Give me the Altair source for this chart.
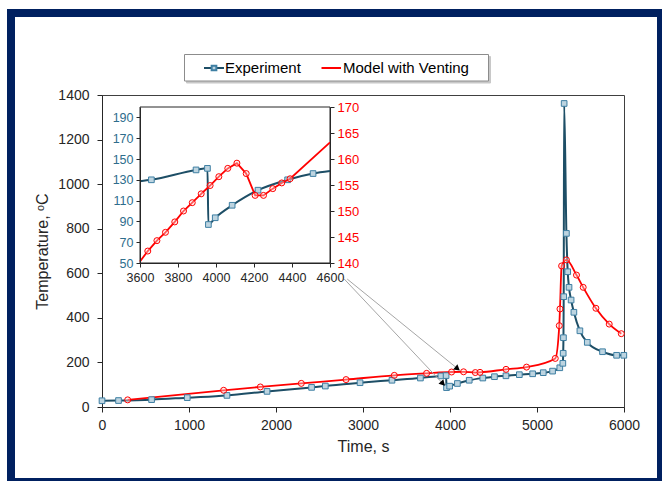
import altair as alt
import pandas as pd

# ---------------- data ----------------
series = ["Experiment", "Model with Venting"]

exp_t = [0, 190, 570, 980, 1436, 1897, 2409, 2567, 2966, 3333, 3660, 3895, 3955, 3960,
         3996, 4085, 4221, 4377, 4511, 4643, 4797, 4950, 5072, 5179, 5262, 5297, 5301,
         5304, 5307, 5312, 5338, 5353, 5368, 5392, 5424, 5493, 5578, 5753, 5915, 5998]
exp_v = [28, 29, 33, 42, 52, 70, 88, 94, 109, 120, 130, 139.5, 141, 87,
         93.5, 105.5, 120, 130, 136, 140, 145, 149, 154, 161, 176, 196, 241,
         311, 495, 1362, 779, 607, 537, 480, 425, 342, 290, 248, 232, 232]

mod_t = [295, 1398, 1820, 2291, 2805, 3360, 3731, 4018, 4156, 4291, 4345, 4644, 4880,
         5210, 5256, 5264, 5283, 5338, 5454, 5531, 5677, 5830, 5969]
mod_v = [32, 75, 90, 106, 123, 142, 151, 157, 158, 154.5, 155.5, 169, 179,
         218, 365, 440, 633, 660, 592, 537, 443, 372, 329]

# inset (zoom 3600-4600 s)
ins_mod_t = [3641, 3689, 3734, 3783, 3829, 3875, 3922, 3969, 4015, 4062, 4110, 4159,
             4206, 4250, 4299, 4346, 4390]
ins_mod_v = [142.3, 144.3, 145.9, 147.9, 150.0, 151.6, 153.3, 154.9, 156.6, 158.2, 159.2,
             157.2, 153.0, 153.0, 154.3, 155.4, 156.2]
ins_mod_edge_t = [3600, 4600]
ins_mod_edge_v = [140.3, 163.2]
ins_exp_edge_t = [3600, 4600]
ins_exp_edge_v = [128.7, 138.4]

x_ticks = [0, 1000, 2000, 3000, 4000, 5000, 6000]
y_ticks = [0, 200, 400, 600, 800, 1000, 1200, 1400]
ins_x_ticks = [3600, 3800, 4000, 4200, 4400, 4600]
ins_yl_ticks = [50, 70, 90, 110, 130, 150, 170, 190]
ins_yr_ticks = [140, 145, 150, 155, 160, 165, 170]

# annotation arrows (main data coordinates)
arrow_from_t = [2785, 2819]
arrow_from_v = [574, 574]
arrow_to_t = [3911, 4078]
arrow_to_v = [108, 175]
arrow_angle = [136.7, 129.1]

# ---------------- styling ----------------
EXP_LINE = "#1d4e66"
EXP_MK_STROKE = "#3e7fa3"
EXP_MK_FILL = "#bdd4e0"
MOD = "#ff0000"
NAVY = "#002060"
FONT = "Liberation Sans"

W, H = 522, 312
PAD = {"left": 102, "top": 95, "right": 38, "bottom": 74}
# inset geometry in plot pixels
IX0, IX1 = 38, 228
IY0, IY1 = 168, 12

exp_df = pd.DataFrame({"t": exp_t, "v": exp_v})
mod_df = pd.DataFrame({"t": mod_t, "v": mod_v})

ins_exp_pts = exp_df[(exp_df.t >= 3600) & (exp_df.t <= 4600)]
ins_exp_line = pd.concat([pd.DataFrame({"t": ins_exp_edge_t, "v": ins_exp_edge_v}), ins_exp_pts]).sort_values("t")
ins_mod_pts = pd.DataFrame({"t": ins_mod_t, "v": ins_mod_v})
ins_mod_line = pd.concat([pd.DataFrame({"t": ins_mod_edge_t, "v": ins_mod_edge_v}), ins_mod_pts]).sort_values("t")

arrows_df = pd.DataFrame({"t": arrow_from_t, "v": arrow_from_v, "t2": arrow_to_t, "v2": arrow_to_v})
heads_df = pd.DataFrame({"t": arrow_to_t, "v": arrow_to_v, "ang": arrow_angle})

# ---------------- main chart ----------------
mx = alt.X("t:Q", scale=alt.Scale(domain=[0, 6000], nice=False),
           axis=alt.Axis(values=x_ticks, title="Time, s", grid=False, format="d", labelFlush=False,
                         domainColor="#262626", tickColor="#262626", tickSize=5,
                         labelFont=FONT, labelFontSize=14, labelColor="#262626", labelPadding=6,
                         titleFont=FONT, titleFontSize=16, titleFontWeight="normal",
                         titleColor="#262626", titlePadding=6))
my = alt.Y("v:Q", scale=alt.Scale(domain=[0, 1400], nice=False),
           axis=alt.Axis(values=y_ticks, title="Temperature, ᵒC", grid=False, format="d", labelFlush=False,
                         domainColor="#262626", tickColor="#262626", tickSize=5,
                         labelFont=FONT, labelFontSize=14, labelColor="#262626", labelPadding=8,
                         titleFont=FONT, titleFontSize=16, titleFontWeight="normal",
                         titleColor="#262626", titlePadding=7))

main_exp_line = alt.Chart(exp_df).mark_line(color=EXP_LINE, strokeWidth=2, interpolate="monotone").encode(x=mx, y=my)
main_exp_pts = alt.Chart(exp_df).mark_point(shape="square", size=32, fill=EXP_MK_FILL, fillOpacity=1,
                                            stroke=EXP_MK_STROKE, strokeWidth=1, opacity=1).encode(x=mx, y=my)
main_mod_line = alt.Chart(mod_df).mark_line(color=MOD, strokeWidth=1.8, interpolate="monotone").encode(x=mx, y=my)
main_mod_pts = alt.Chart(mod_df).mark_point(shape="circle", size=36, fill="#ffe0e0", fillOpacity=0.4,
                                            stroke=MOD, strokeWidth=1, opacity=1).encode(x=mx, y=my)

arrow_lines = alt.Chart(arrows_df).mark_rule(color="#a6a6a6", strokeWidth=1).encode(
    x=mx, y=my, x2="t2:Q", y2="v2:Q")
arrow_heads = alt.Chart(heads_df).mark_point(shape="triangle", size=45, filled=True, color="#000000",
                                             opacity=1).encode(x=mx, y=my, angle=alt.Angle("ang:Q", scale=None))

# decorations (frame + legend), pixel-positioned
one = exp_df.head(1)
frame = alt.Chart(one).mark_rect(fillOpacity=0, stroke=NAVY, strokeWidth=8).encode(
    x=alt.value(-91), x2=alt.value(559), y=alt.value(-82), y2=alt.value(387))
leg_shadow = alt.Chart(one).mark_rect(fill="#c8c8c8", stroke="#c8c8c8").encode(
    x=alt.value(84.5), x2=alt.value(388.5), y=alt.value(-38.5), y2=alt.value(-12))
leg_box = alt.Chart(one).mark_rect(fill="white", stroke="#8c8c8c", strokeWidth=1).encode(
    x=alt.value(82.5), x2=alt.value(386.5), y=alt.value(-40.5), y2=alt.value(-14))
leg_exp_line = alt.Chart(one).mark_rule(color=EXP_LINE, strokeWidth=2).encode(
    x=alt.value(102), x2=alt.value(122), y=alt.value(-27))
leg_exp_mk = alt.Chart(one).mark_point(shape="square", size=22, fill=EXP_MK_FILL, fillOpacity=1,
                                       stroke=EXP_MK_STROKE, opacity=1).encode(
    x=alt.value(112), y=alt.value(-27))
leg_mod_line = alt.Chart(one).mark_rule(color=MOD, strokeWidth=2).encode(
    x=alt.value(219.5), x2=alt.value(239), y=alt.value(-27))
leg_txt1 = alt.Chart(one).mark_text(align="left", baseline="middle", font=FONT, fontSize=15,
                                    color="#000000").encode(
    x=alt.value(123), y=alt.value(-27), text=alt.value(series[0]))
leg_txt2 = alt.Chart(one).mark_text(align="left", baseline="middle", font=FONT, fontSize=15,
                                    color="#000000").encode(
    x=alt.value(241), y=alt.value(-27), text=alt.value(series[1]))

main = alt.layer(main_exp_line, main_mod_line, main_exp_pts, main_mod_pts, arrow_lines, arrow_heads,
                 frame, leg_shadow, leg_box, leg_exp_line, leg_exp_mk, leg_mod_line, leg_txt1, leg_txt2)

# ---------------- inset ----------------
ix = alt.X("t:Q", scale=alt.Scale(domain=[3600, 4600], range=[IX0, IX1], nice=False),
           axis=alt.Axis(orient="bottom", offset=IY0 - H, values=ins_x_ticks, title=None, grid=False,
                         format="d", labelOverlap=False, labelFlush=False,
                         domainColor="#262626", tickColor="#262626", tickSize=4,
                         labelFont=FONT, labelFontSize=12.5, labelColor="#262626", labelPadding=4, zindex=2))
iyl = alt.Y("v:Q", scale=alt.Scale(domain=[50, 200], range=[IY0, IY1], nice=False),
            axis=alt.Axis(orient="left", offset=-IX0, values=ins_yl_ticks, title=None, grid=False,
                          format="d", labelOverlap=False, labelFlush=False,
                          domainColor="#262626", tickColor="#262626", tickSize=4,
                          labelFont=FONT, labelFontSize=12.5, labelColor="#2e6d8c", labelPadding=3, zindex=2))
iyr = alt.Y("v:Q", scale=alt.Scale(domain=[140, 170], range=[IY0, IY1], nice=False),
            axis=alt.Axis(orient="right", offset=IX1 - W, values=ins_yr_ticks, title=None, grid=False,
                          format="d", labelOverlap=False, labelFlush=False,
                          domainColor="#262626", tickColor="#262626", tickSize=4,
                          labelFont=FONT, labelFontSize=13, labelColor="#ff0000", labelPadding=3, zindex=2))

inset_box = pd.DataFrame({"t": [3600], "t2": [4600], "v": [50], "v2": [200]})
ins_bg = alt.Chart(inset_box).mark_rect(fill="white", stroke="#262626", strokeWidth=1).encode(
    x=ix, x2="t2:Q", y=iyl, y2="v2:Q")
ins_exp_l = alt.Chart(ins_exp_line).mark_line(color=EXP_LINE, strokeWidth=2, interpolate="monotone").encode(x=ix, y=iyl)
ins_exp_p = alt.Chart(ins_exp_pts).mark_point(shape="square", size=32, fill=EXP_MK_FILL, fillOpacity=1,
                                              stroke=EXP_MK_STROKE, strokeWidth=1, opacity=1).encode(x=ix, y=iyl)
ins_mod_l = alt.Chart(ins_mod_line).mark_line(color=MOD, strokeWidth=1.8, interpolate="linear").encode(x=ix, y=iyr)
ins_mod_p = alt.Chart(ins_mod_pts).mark_point(shape="circle", size=36, fill="#ffe0e0", fillOpacity=0.4,
                                              stroke=MOD, strokeWidth=1, opacity=1).encode(x=ix, y=iyr)

inset = alt.layer(alt.layer(ins_bg, ins_exp_l, ins_exp_p),
                  alt.layer(ins_mod_l, ins_mod_p)).resolve_scale(y="independent")

chart = alt.layer(main, inset).resolve_scale(x="independent", y="independent").properties(
    width=W, height=H, padding=PAD, autosize=alt.AutoSizeParams(type="none"),
    background="white"
).configure_view(stroke="#404040", strokeWidth=1)

chart.save("out.html", embed_options={"renderer": "svg", "actions": False})
